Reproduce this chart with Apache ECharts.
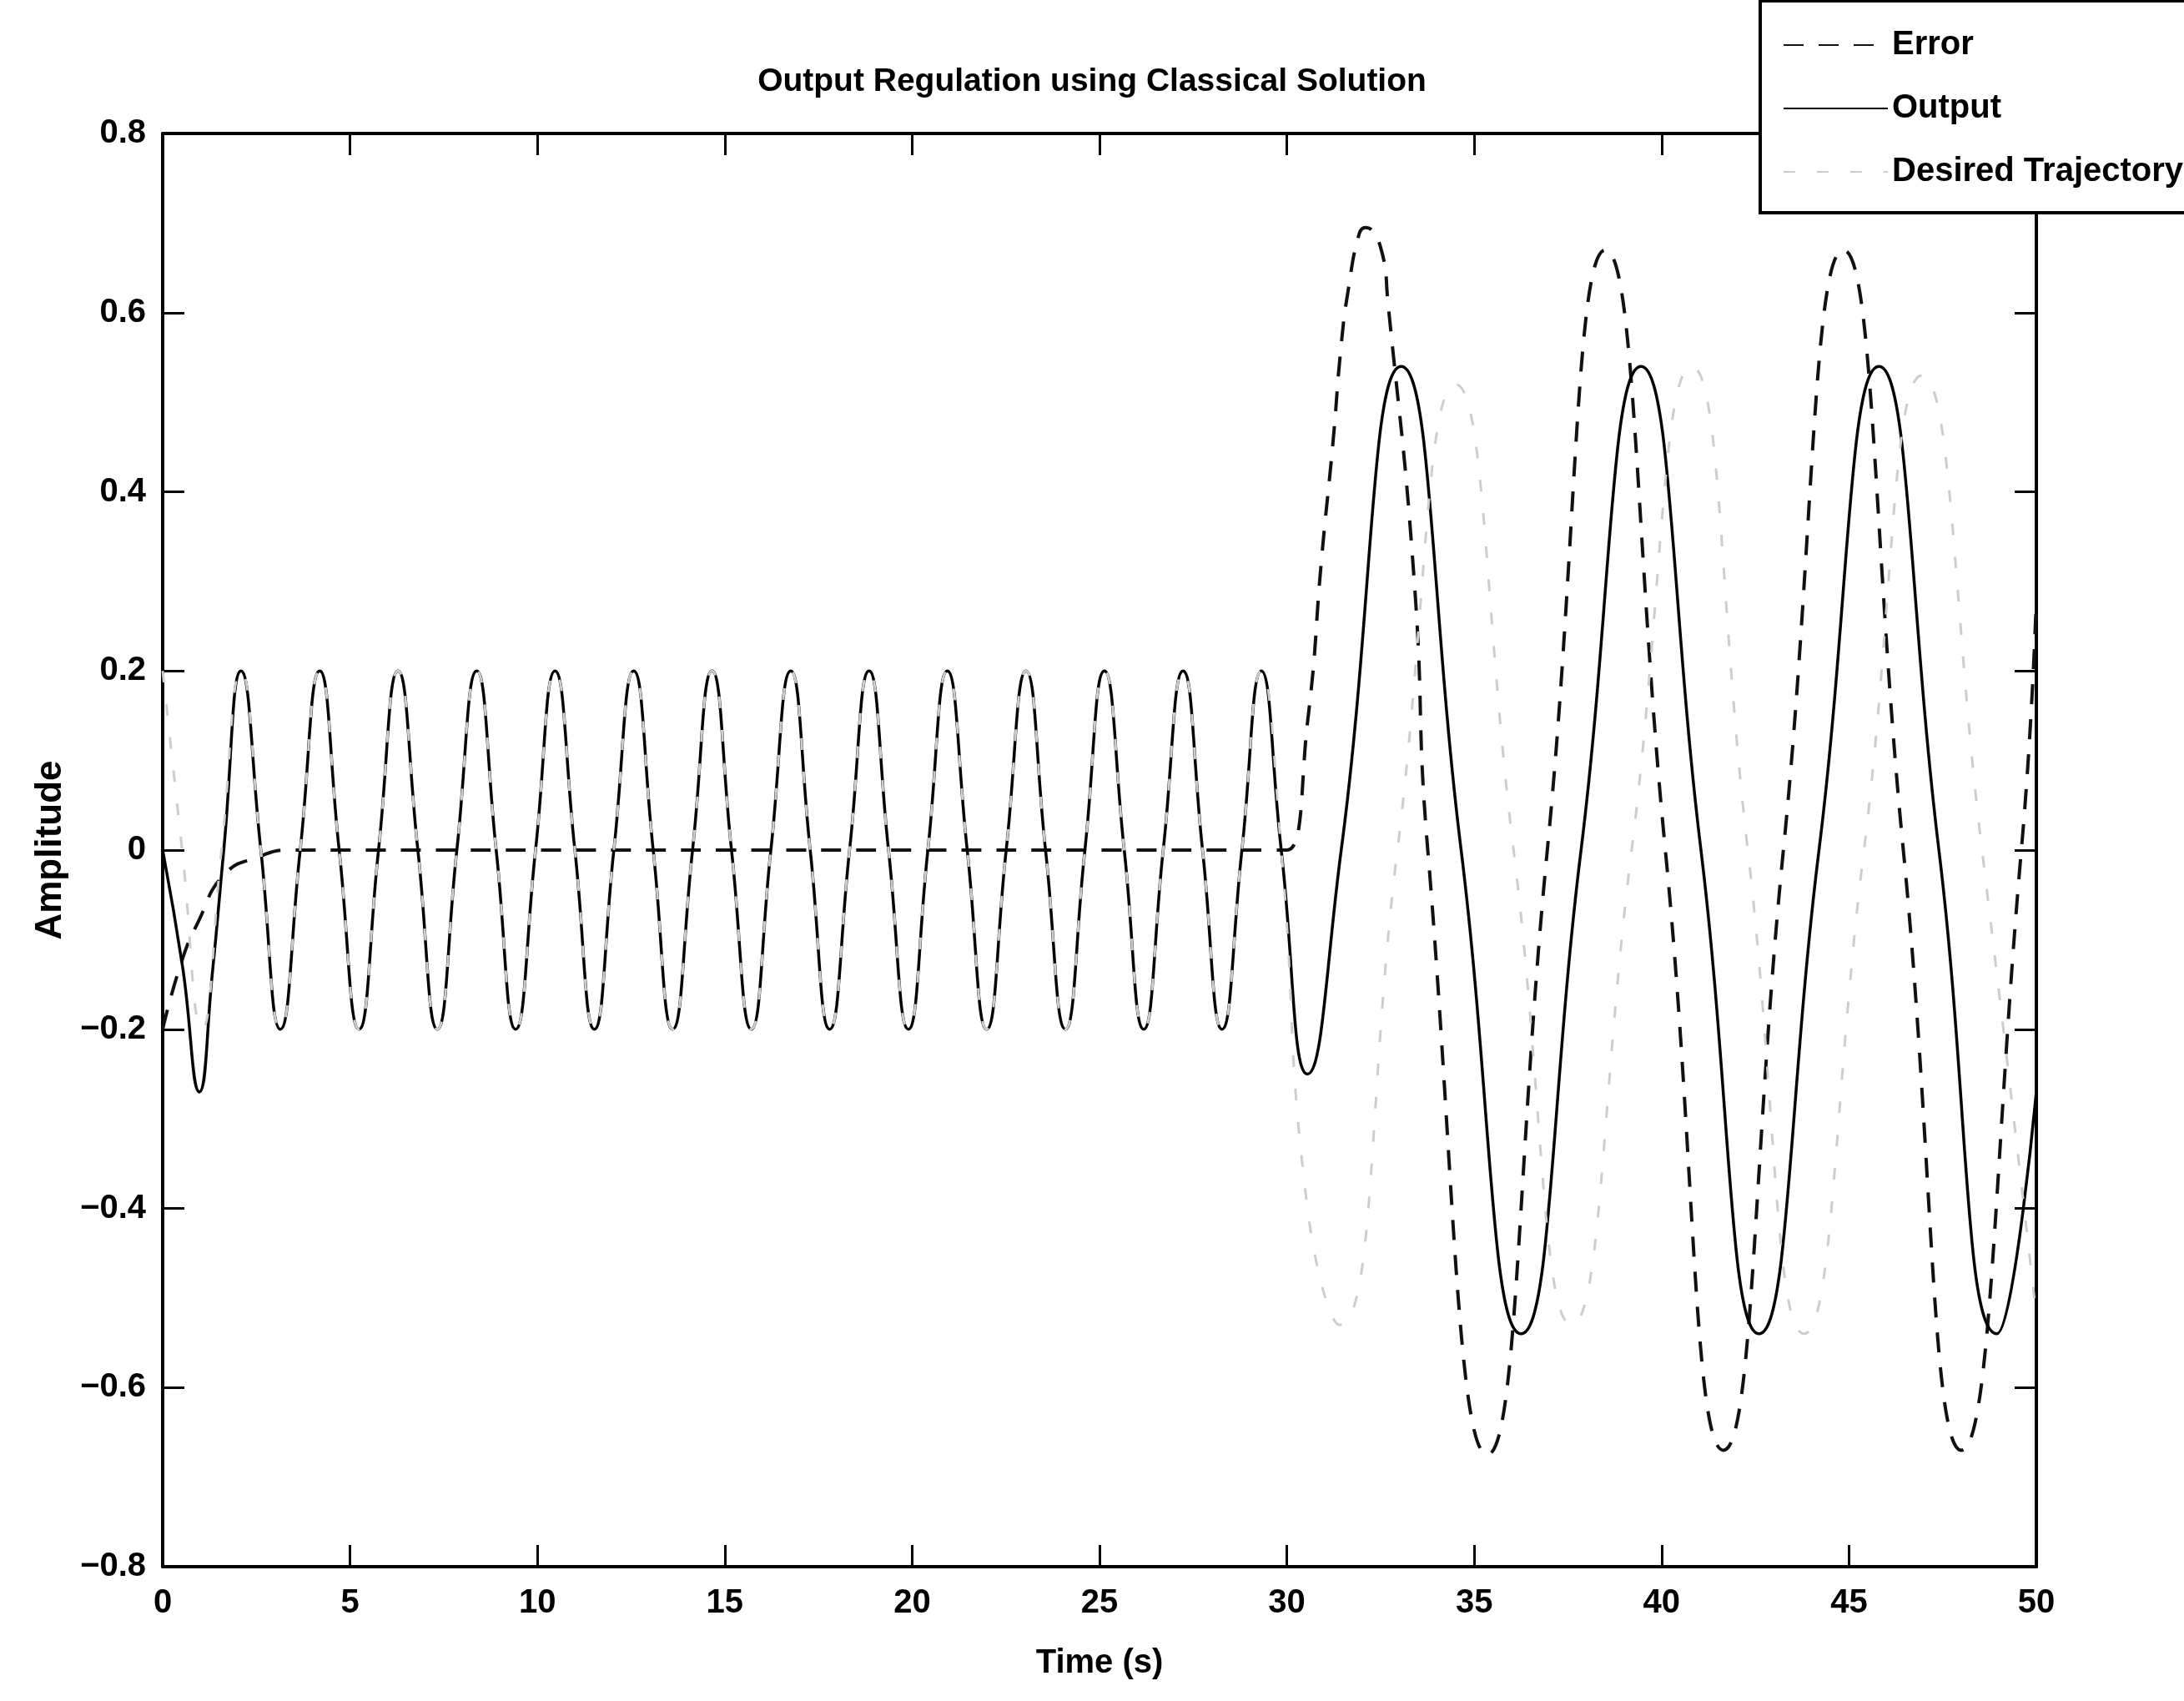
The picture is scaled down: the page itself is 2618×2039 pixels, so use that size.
<!DOCTYPE html>
<html>
<head>
<meta charset="utf-8">
<title>Output Regulation using Classical Solution</title>
<script src="https://cdn.jsdelivr.net/npm/echarts@6/dist/echarts.min.js"></script>
<style>
  html, body { margin: 0; padding: 0; background: #fff; }
  #chart { width: 2618px; height: 2039px; }
</style>
</head>
<body>
<div id="chart"></div>
<script>
// axis ticks
const timeTicks = [0, 5, 10, 15, 20, 25, 30, 35, 40, 45, 50];
const ampTicks = [-0.8, -0.6, -0.4, -0.2, 0, 0.2, 0.4, 0.6, 0.8];

// steady part (about 2 s to 29.3 s), output and desired trajectory lie on top of each other
// key points: peaks, zero crossings, troughs
const steadyT = [2.09, 2.62, 3.14, 3.67, 4.19, 4.71, 5.24, 5.76, 6.28, 6.81, 7.33, 7.85,
  8.38, 8.90, 9.42, 9.95, 10.47, 11.00, 11.52, 12.04, 12.57, 13.09, 13.61, 14.14,
  14.66, 15.18, 15.71, 16.23, 16.76, 17.28, 17.80, 18.33, 18.85, 19.37, 19.90, 20.42,
  20.94, 21.47, 21.99, 22.51, 23.04, 23.56, 24.09, 24.61, 25.13, 25.66, 26.18, 26.70,
  27.23, 27.75, 28.27, 28.80, 29.32];
const steadyY = [0.2, 0, -0.2, 0, 0.2, 0, -0.2, 0, 0.2, 0, -0.2, 0,
  0.2, 0, -0.2, 0, 0.2, 0, -0.2, 0, 0.2, 0, -0.2, 0,
  0.2, 0, -0.2, 0, 0.2, 0, -0.2, 0, 0.2, 0, -0.2, 0,
  0.2, 0, -0.2, 0, 0.2, 0, -0.2, 0, 0.2, 0, -0.2, 0,
  0.2, 0, -0.2, 0, 0.2];

// output: start transient and the part after the switch at 30 s
const outputStartT = [0, 0.53, 0.98, 1.32, 1.63];
const outputStartY = [0, -0.13, -0.27, -0.14, 0];
const outputEndT = [29.85, 30.55, 31.45, 33.05, 34.65, 36.25, 37.85, 39.45, 41.05, 42.6, 44.2, 45.8, 47.4, 48.95, 50];
const outputEndY = [0, -0.25, 0, 0.54, 0, -0.54, 0, 0.54, 0, -0.54, 0, 0.54, 0, -0.54, -0.27];

// desired trajectory
const desiredStartT = [0, 0.52, 1.05, 1.57];
const desiredStartY = [0.2, 0, -0.2, 0];
const desiredEndT = [29.85, 30.55, 31.4, 32.95, 34.5, 36.05, 37.6, 39.2, 40.8, 42.3, 43.8, 45.4, 46.95, 48.55, 50];
const desiredEndY = [0, -0.4, -0.53, 0, 0.52, 0, -0.53, 0, 0.54, 0, -0.54, 0, 0.53, 0, -0.52];

// error
const errorT = [0, 0.5, 0.95, 1.65, 2.6, 3.3, 5, 10, 15, 20, 25, 29.5, 30,
  30.56, 30.93, 31.23, 31.45, 31.64, 31.93, 32.1, 32.5, 32.7, 33.4, 33.76,
  35.35, 36.95, 38.5, 40.1, 41.65, 43.25, 44.85, 46.45, 48.0, 49.6, 50];
const errorY = [-0.2, -0.125, -0.08, -0.027, -0.007, 0, 0, 0, 0, 0, 0, 0, 0,
  0.146, 0.327, 0.455, 0.564, 0.626, 0.688, 0.695, 0.673, 0.61, 0.3, 0,
  -0.675, 0, 0.67, 0, -0.67, 0, 0.67, 0, -0.67, 0, 0.28];

function pairs(ts, ys) {
  return ts.map((t, i) => [t, ys[i]]);
}

const outputData = pairs(outputStartT, outputStartY)
  .concat(pairs(steadyT, steadyY), pairs(outputEndT, outputEndY));
const desiredData = pairs(desiredStartT, desiredStartY)
  .concat(pairs(steadyT, steadyY), pairs(desiredEndT, desiredEndY));
const errorData = pairs(errorT, errorY);

// pick a narrow font if there is one, the reference text is condensed
function hasFont(name) {
  const ctx = document.createElement('canvas').getContext('2d');
  const s = 'Desired Trajectory 0123456789';
  ctx.font = '40px monospace';
  const w0 = ctx.measureText(s).width;
  ctx.font = '40px "' + name + '", monospace';
  return ctx.measureText(s).width !== w0;
}
const narrow = hasFont('Liberation Sans Narrow');
const FONT = narrow ? '"Liberation Sans Narrow", "Liberation Sans", sans-serif' : '"Liberation Sans", Arial, sans-serif';
const fs = narrow ? 50 : 40;

const textBase = { fontFamily: FONT, fontWeight: 'bold', color: '#000' };

function fmtAmp(v) {
  const r = Math.round(v * 10) / 10;
  if (r === 0) return '0';
  return (r < 0 ? '\u2212' : '') + Math.abs(r).toFixed(1);
}

const chart = echarts.init(document.getElementById('chart'));

const axisLine = { show: true, onZero: false, lineStyle: { color: '#000', width: 4 } };
const axisTick = { show: true, inside: true, length: 26, lineStyle: { color: '#000', width: 3 } };

const option = {
  animation: false,
  backgroundColor: '#fff',
  title: {
    text: 'Output Regulation using Classical Solution',
    left: 'center',
    top: 74,
    textStyle: Object.assign({ fontSize: fs - 1 }, textBase)
  },
  legend: {
    data: ['Error', 'Output', 'Desired Trajectory'],
    orient: 'vertical',
    left: 2110,
    top: 1,
    padding: [23, 40, 19, 27],
    itemWidth: 125,
    itemHeight: 20,
    itemGap: 16,
    backgroundColor: '#fff',
    borderColor: '#000',
    borderWidth: 4,
    borderRadius: 0,
    itemStyle: { color: 'rgba(0,0,0,0)', borderWidth: 0, opacity: 0 },
    textStyle: Object.assign({ fontSize: fs, lineHeight: 60 }, textBase)
  },
  grid: { left: 195, right: 177, top: 160, bottom: 161 },
  xAxis: [
    {
      type: 'value',
      position: 'bottom',
      min: timeTicks[0],
      max: timeTicks[timeTicks.length - 1],
      interval: timeTicks[1] - timeTicks[0],
      axisLine: axisLine,
      axisTick: axisTick,
      splitLine: { show: false },
      axisLabel: Object.assign({ fontSize: fs, margin: 24 }, textBase),
      name: 'Time (s)',
      nameLocation: 'middle',
      nameGap: 96,
      nameTextStyle: Object.assign({ fontSize: fs }, textBase)
    },
    {
      type: 'value',
      position: 'top',
      min: timeTicks[0],
      max: timeTicks[timeTicks.length - 1],
      interval: timeTicks[1] - timeTicks[0],
      axisLine: axisLine,
      axisTick: axisTick,
      splitLine: { show: false },
      axisLabel: { show: false }
    }
  ],
  yAxis: [
    {
      type: 'value',
      position: 'left',
      min: ampTicks[0],
      max: ampTicks[ampTicks.length - 1],
      interval: 0.2,
      axisLine: axisLine,
      axisTick: axisTick,
      splitLine: { show: false },
      axisLabel: Object.assign({ fontSize: fs, margin: 20, formatter: fmtAmp }, textBase),
      name: 'Amplitude',
      nameLocation: 'middle',
      nameRotate: 90,
      nameGap: 112,
      nameTextStyle: { fontSize: 44, fontWeight: 'bold', fontFamily: '"Liberation Sans", Arial, sans-serif', color: '#000' }
    },
    {
      type: 'value',
      position: 'right',
      min: ampTicks[0],
      max: ampTicks[ampTicks.length - 1],
      interval: 0.2,
      axisLine: axisLine,
      axisTick: axisTick,
      splitLine: { show: false },
      axisLabel: { show: false }
    }
  ],
  series: [
    {
      name: 'Error',
      type: 'line',
      data: errorData,
      smooth: 0.5,
      symbol: 'none',
      lineStyle: { color: '#111', width: 4, type: [24, 18] }
    },
    {
      name: 'Output',
      type: 'line',
      data: outputData,
      smooth: 0.5,
      symbol: 'none',
      lineStyle: { color: '#000', width: 3.5, type: 'solid' }
    },
    {
      name: 'Desired Trajectory',
      type: 'line',
      data: desiredData,
      smooth: 0.5,
      symbol: 'none',
      lineStyle: { color: '#cdcdcd', width: 3, type: [14, 26] }
    }
  ]
};

chart.setOption(option);
</script>
</body>
</html>
